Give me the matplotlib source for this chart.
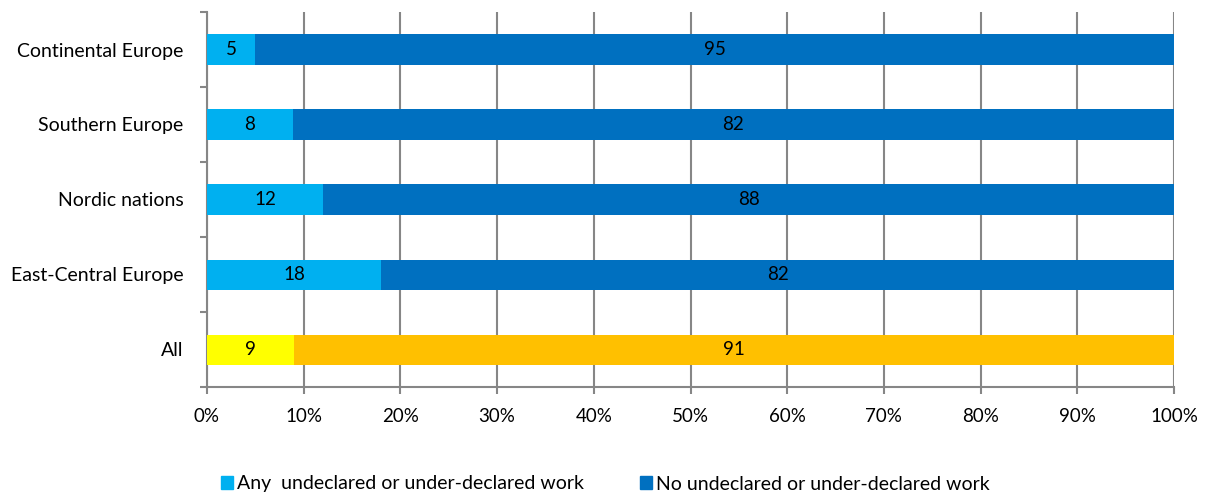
import matplotlib
matplotlib.use("Agg")
import matplotlib.pyplot as plt
import numpy as np
from matplotlib.patches import Patch

categories = ["Continental Europe", "Southern Europe", "Nordic nations", "East-Central Europe", "All"]
any_work = [5, 8, 12, 18, 9]
no_work = [95, 82, 88, 82, 91]
xticklabels = ["0%", "10%", "20%", "30%", "40%", "50%", "60%", "70%", "80%", "90%", "100%"]

light_colors = ["#00B0F0", "#00B0F0", "#00B0F0", "#00B0F0", "#FFFF00"]
dark_colors = ["#0070C0", "#0070C0", "#0070C0", "#0070C0", "#FFC000"]

plt.rcParams['font.family'] = ['Lato', 'DejaVu Sans']

fig = plt.figure(figsize=(12.11, 4.96), dpi=100)
ax = fig.add_axes([207/1211, 1-387/496, (1174-207)/1211, (387-12)/496])

a = np.array(any_work, float)
n = np.array(no_work, float)
tot = a + n
ap = a / tot * 100
npct = n / tot * 100
y = np.arange(len(categories))[::-1]

ax.set_axisbelow(True)
ax.grid(axis='x', color='#868686', linewidth=1.5)
ax.barh(y, ap, height=0.4, color=light_colors, zorder=3)
ax.barh(y, npct, left=ap, height=0.4, color=dark_colors, zorder=3)

for yi, a0, n0, av, nv in zip(y, ap, npct, any_work, no_work):
    ax.text(a0/2, yi, str(av), ha='center', va='center', fontsize=13.5, zorder=4)
    ax.text(a0 + n0/2, yi, str(nv), ha='center', va='center', fontsize=13.5, zorder=4)

ax.set_xlim(0, 100)
ax.set_ylim(-0.5, len(categories)-0.5)
ax.set_xticks(np.arange(0, 101, 10))
ax.set_xticklabels(xticklabels, fontsize=13.5)
ax.set_yticks(y)
ax.set_yticklabels(categories, fontsize=14)
ax.set_yticks(np.arange(-0.5, len(categories), 1), minor=True)
ax.tick_params(axis='y', which='major', length=0, pad=17)
ax.tick_params(axis='y', which='minor', length=5, width=1.5, color='#868686')
ax.tick_params(axis='x', length=5, width=1.5, color='#868686', pad=10)

for s in ['top', 'right']:
    ax.spines[s].set_visible(False)
for s in ['left', 'bottom']:
    ax.spines[s].set_color('#868686')
    ax.spines[s].set_linewidth(1.5)

handles = [Patch(color="#00B0F0", label="Any  undeclared or under-declared work"),
           Patch(color="#0070C0", label="No undeclared or under-declared work")]
fig.legend(handles=handles, loc='center', bbox_to_anchor=(0.5, 1-484/496), ncol=2,
           frameon=False, fontsize=14, handlelength=0.6, handleheight=0.6,
           handletextpad=0.2, columnspacing=2.9)

fig.savefig("out.png", dpi=100)
